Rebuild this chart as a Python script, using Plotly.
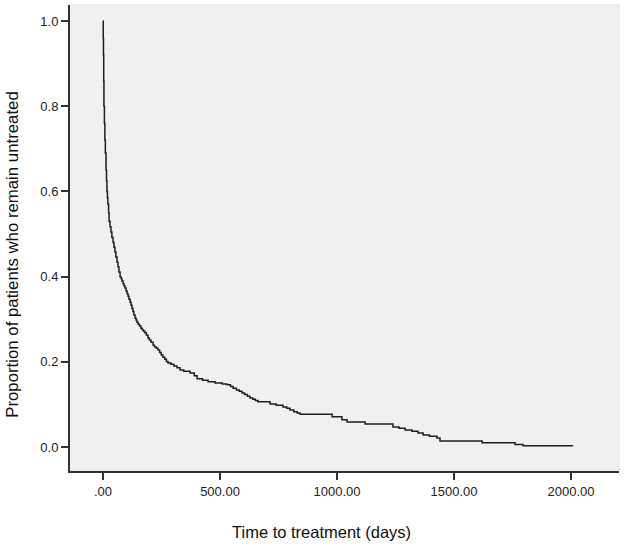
import plotly.graph_objects as go

# Kaplan-Meier estimate (days, proportion untreated)
days = [0, 1, 2, 3, 4, 6, 8, 10, 13, 15, 17, 19, 21, 24, 26, 30, 34, 38, 43, 47,
        51, 55, 60, 64, 68, 73, 78, 81, 86, 90, 94, 99, 103, 107, 111, 116, 120,
        124, 128, 132, 137, 141, 145, 150, 156, 162, 168, 173, 179, 185, 192, 198,
        205, 214, 220, 228, 235, 242, 249, 256, 264, 271, 278, 290, 303, 316, 329,
        345, 372, 390, 402, 425, 449, 479, 510, 530, 545, 556, 570, 582, 594, 605,
        617, 628, 640, 651, 662, 714, 740, 769, 785, 799, 815, 830, 842, 979, 1021,
        1043, 1120, 1239, 1265, 1291, 1320, 1346, 1368, 1395, 1427, 1440, 1620,
        1761, 1795, 2009]
untreated = [1.000, 0.96, 0.92, 0.86, 0.80, 0.76, 0.72, 0.69, 0.65, 0.625, 0.60,
             0.585, 0.57, 0.55, 0.53, 0.517, 0.505, 0.492, 0.480, 0.469, 0.458,
             0.446, 0.434, 0.423, 0.411, 0.399, 0.395, 0.390, 0.383, 0.378, 0.373,
             0.366, 0.360, 0.354, 0.347, 0.340, 0.333, 0.325, 0.318, 0.310, 0.303,
             0.298, 0.293, 0.288, 0.284, 0.279, 0.275, 0.272, 0.268, 0.263, 0.256,
             0.251, 0.246, 0.239, 0.235, 0.232, 0.228, 0.222, 0.216, 0.211, 0.206,
             0.201, 0.197, 0.194, 0.190, 0.186, 0.181, 0.178, 0.174, 0.167, 0.160,
             0.157, 0.153, 0.150, 0.148, 0.146, 0.142, 0.138, 0.134, 0.131, 0.127,
             0.123, 0.119, 0.115, 0.112, 0.109, 0.106, 0.101, 0.098, 0.094, 0.091,
             0.087, 0.083, 0.080, 0.077, 0.071, 0.064, 0.059, 0.054, 0.047, 0.044,
             0.040, 0.037, 0.033, 0.028, 0.025, 0.021, 0.014, 0.010, 0.006, 0.003,
             0.003]

x_ticks = [0, 500, 1000, 1500, 2000]
x_tick_labels = [".00", "500.00", "1000.00", "1500.00", "2000.00"]
y_ticks = [0.0, 0.2, 0.4, 0.6, 0.8, 1.0]
y_tick_labels = ["0.0", "0.2", "0.4", "0.6", "0.8", "1.0"]

FONT = "Liberation Sans, Arial, sans-serif"

fig = go.Figure()
fig.add_trace(go.Scatter(
    x=days, y=untreated, mode="lines", line_shape="hv",
    line=dict(color="#1e1e1e", width=1.5), hoverinfo="x+y", showlegend=False))

fig.update_layout(
    width=625, height=546,
    margin=dict(l=70, r=6, t=5, b=75),
    paper_bgcolor="white", plot_bgcolor="#f0f0f0",
    font=dict(family=FONT, color="#222222"),
    shapes=[dict(type="rect", xref="paper", yref="paper", x0=0, x1=1, y0=0, y1=1,
                 line=dict(color="#e2e2e2", width=1), layer="below")],
    annotations=[
        dict(text="Time to treatment (days)", xref="paper", yref="paper",
             x=0.458, y=-0.131, showarrow=False, xanchor="center", yanchor="middle",
             font=dict(size=16.5, family=FONT, color="#111111")),
        dict(text="Proportion of patients who remain untreated", xref="paper", yref="paper",
             x=-0.104, y=0.466, showarrow=False, xanchor="center", yanchor="middle",
             textangle=-90, font=dict(size=16.8, family=FONT, color="#111111")),
    ],
)
fig.update_xaxes(range=[-141, 2205], tickvals=x_ticks, ticktext=x_tick_labels,
                 showgrid=False, zeroline=False, showline=True, linecolor="#333333",
                 linewidth=2, ticks="outside", ticklen=7, tickwidth=2, tickcolor="#333333",
                 tickfont=dict(size=13, family=FONT, color="#222222"))
fig.update_yaxes(range=[-0.0563, 1.0376], tickvals=y_ticks, ticktext=y_tick_labels,
                 showgrid=False, zeroline=False, showline=True, linecolor="#333333",
                 linewidth=2, ticks="outside", ticklen=7, tickwidth=2, tickcolor="#333333",
                 tickfont=dict(size=13, family=FONT, color="#222222"))

fig.write_html("out.html", config={"displayModeBar": False},
               post_script="document.body.style.margin='0';document.body.style.overflow='hidden';")
